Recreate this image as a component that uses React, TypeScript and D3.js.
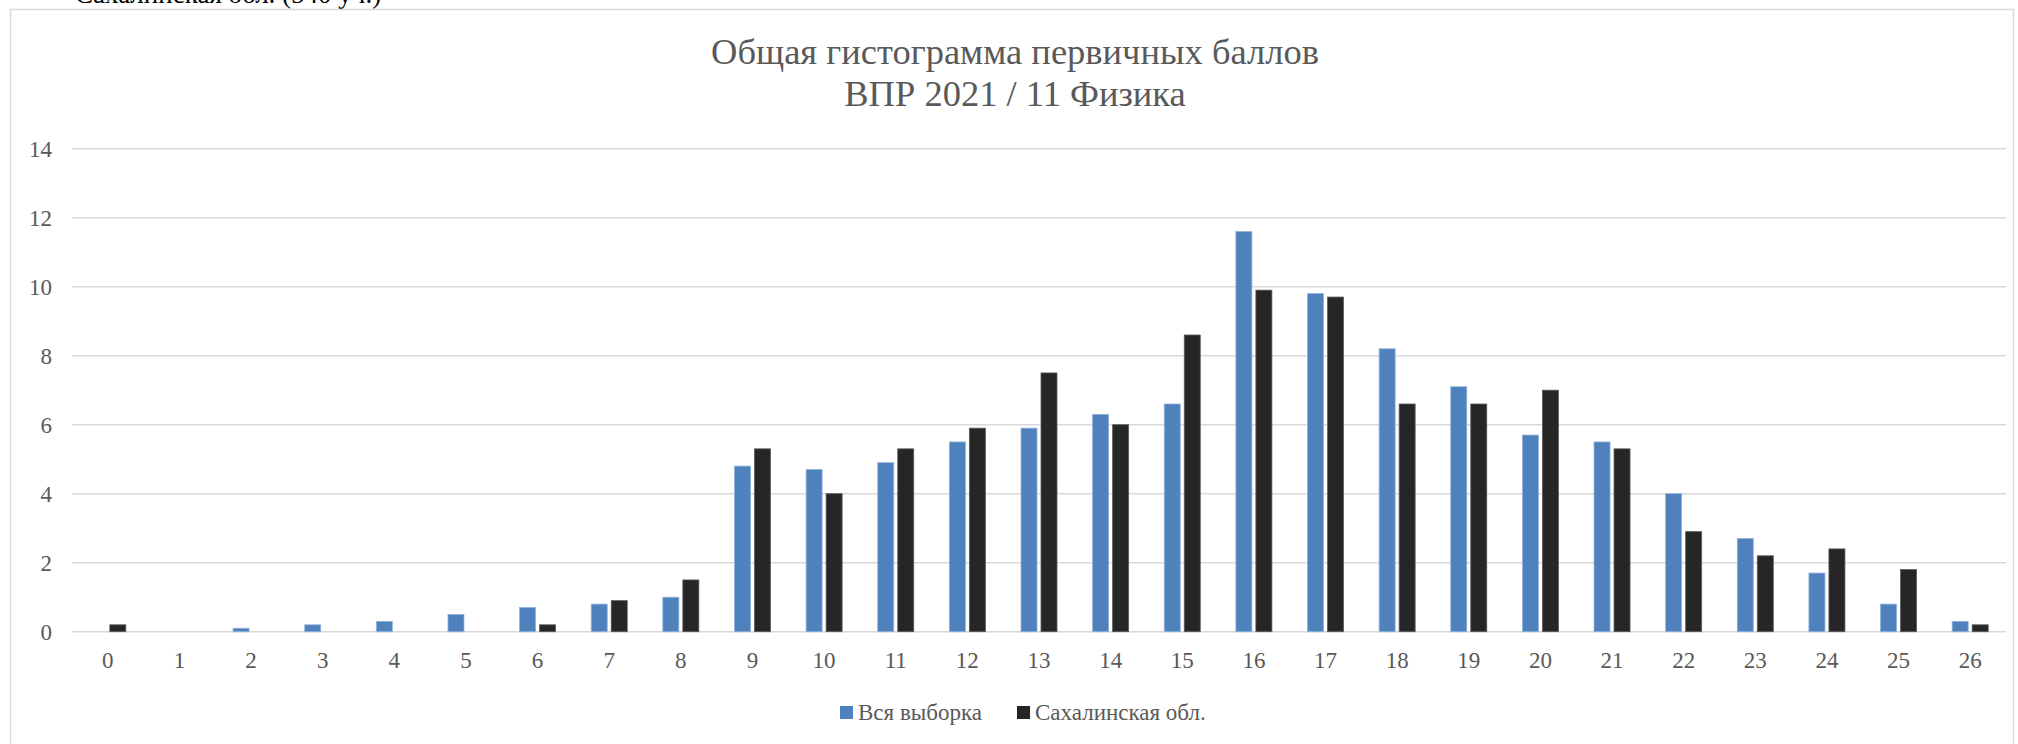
import React from "react";
import * as d3 from "d3";

const categories: string[] = ["0","1","2","3","4","5","6","7","8","9","10","11","12","13","14","15","16","17","18","19","20","21","22","23","24","25","26"];
const allSample: number[] = [0, 0, 0.1, 0.2, 0.3, 0.5, 0.7, 0.8, 1.0, 4.8, 4.7, 4.9, 5.5, 5.9, 6.3, 6.6, 11.6, 9.8, 8.2, 7.1, 5.7, 5.5, 4.0, 2.7, 1.7, 0.8, 0.3];
const sakhalin: number[] = [0.2, 0, 0, 0, 0, 0, 0.2, 0.9, 1.5, 5.3, 4.0, 5.3, 5.9, 7.5, 6.0, 8.6, 9.9, 9.7, 6.6, 6.6, 7.0, 5.3, 2.9, 2.2, 2.4, 1.8, 0.2];
const yTicks: number[] = [0, 2, 4, 6, 8, 10, 12, 14];
const seriesNames: string[] = ["Вся выборка", "Сахалинская обл."];
const titleLines: string[] = ["Общая гистограмма первичных баллов", "ВПР 2021 / 11 Физика"];
const topNote = "Сахалинская обл. (540 уч.)";

const W = 2018;
const H = 744;
const FONT = "'Liberation Serif', 'Times New Roman', serif";

export default function App() {
  const x = d3.scaleBand<string>().domain(categories).range([72, 2006]).paddingInner(0).paddingOuter(0);
  const y = d3.scaleLinear().domain([0, 14]).range([631.7, 148.7]);
  const barW = 16;
  const innerGap = 2;
  const colors = ["#4f81bd", "#262626"];
  const strokes = ["#8fb2dc", "#5a5a5a"];
  const series = [allSample, sakhalin];

  return (
    <svg width={W} height={H} style={{ position: "absolute", left: 0, top: 0, background: "#fff" }}>
      <rect x={0} y={0} width={W} height={H} fill="#fff" />
      <text x={75} y={3} fontFamily={FONT} fontSize={27} fill="#000">{topNote}</text>
      <rect x={10.5} y={9.5} width={2003} height={760} fill="#fff" stroke="#d9d9d9" strokeWidth={1.5} />
      {titleLines.map((t, i) => (
        <text key={i} x={1015} y={64 + i * 42} textAnchor="middle" fontFamily={FONT} fontSize={36.5} fill="#595959">{t}</text>
      ))}
      {yTicks.map((t) => (
        <g key={t}>
          <line x1={72} x2={2006} y1={y(t)} y2={y(t)} stroke="#d9d9d9" strokeWidth={1.5} />
          <text x={52} y={y(t) + 8} textAnchor="end" fontFamily={FONT} fontSize={23} fill="#595959">{t}</text>
        </g>
      ))}
      {series.map((vals, si) => (
        <g key={si}>
          {vals.map((v, i) => {
            const c = (x(categories[i]) as number) + x.bandwidth() / 2;
            const bx = si === 0 ? c - innerGap - barW : c + innerGap;
            if (v <= 0) return null;
            return (
              <rect key={i} x={bx} y={y(v)} width={barW} height={y(0) - y(v)} fill={colors[si]} stroke={strokes[si]} strokeWidth={0.8} />
            );
          })}
        </g>
      ))}
      {categories.map((c) => (
        <text key={c} x={(x(c) as number) + x.bandwidth() / 2} y={668} textAnchor="middle" fontFamily={FONT} fontSize={23} fill="#595959">{c}</text>
      ))}
      <g>
        <rect x={840} y={706} width={13} height={13} fill={colors[0]} />
        <text x={858} y={720} fontFamily={FONT} fontSize={23} fill="#595959">{seriesNames[0]}</text>
        <rect x={1017} y={706} width={13} height={13} fill={colors[1]} />
        <text x={1035} y={720} fontFamily={FONT} fontSize={23} fill="#595959">{seriesNames[1]}</text>
      </g>
    </svg>
  );
}
